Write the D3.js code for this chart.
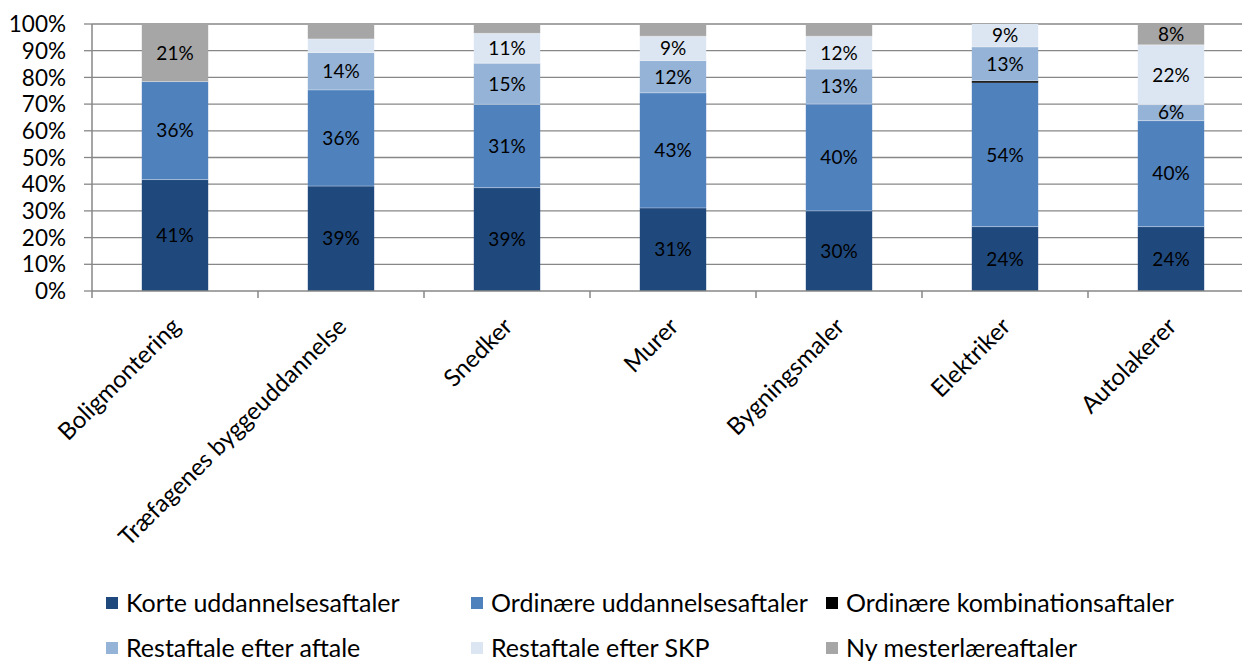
<!DOCTYPE html>
<html>
<head>
<meta charset="utf-8">
<script src="https://cdn.jsdelivr.net/npm/d3@7"></script>
<style>
  html, body { margin: 0; padding: 0; background: #fff; }
  svg { display: block; }
  text { font-family: Lato, "Open Sans", sans-serif; fill: #000; }
</style>
</head>
<body>
<svg id="chart" width="1242" height="661"></svg>
<script>
// ---- data ----
const categories = ["Boligmontering", "Træfagenes byggeuddannelse", "Snedker", "Murer", "Bygningsmaler", "Elektriker", "Autolakerer"];
const seriesNames = ["Korte uddannelsesaftaler", "Ordinære uddannelsesaftaler", "Ordinære kombinationsaftaler", "Restaftale efter aftale", "Restaftale efter SKP", "Ny mesterlæreaftaler"];
const korte      = [41.4, 39.3, 38.7, 31.1, 30.0, 24.1, 24.1];
const ordinaere  = [36.4, 36.0, 31.2, 43.1, 40.0, 53.9, 39.7];
const kombination= [0,    0,    0,    0,    0,    0.7,  0];
const restAftale = [0,    14.0, 15.4, 12.1, 13.1, 12.7, 6.0];
const restSKP    = [0,    5.1,  11.2, 9.1,  12.3, 8.6,  22.4];
const mester     = [21.4, 5.6,  3.5,  4.6,  4.6,  0,    7.8];
const yTicks = [0, 0.1, 0.2, 0.3, 0.4, 0.5, 0.6, 0.7, 0.8, 0.9, 1.0];
const colors = ["#1F497D", "#4F81BD", "#000000", "#95B3D7", "#DCE6F2", "#A6A6A6"];

const seriesValues = [korte, ordinaere, kombination, restAftale, restSKP, mester];
const rows = categories.map((c, i) => {
  const r = { cat: c };
  seriesNames.forEach((s, j) => r[s] = seriesValues[j][i]);
  return r;
});

const svg = d3.select("#chart");
const plot = { left: 92, right: 1254, top: 24, bottom: 291 };

const x = d3.scaleBand().domain(categories).range([plot.left, plot.right])
  .paddingInner(0.6).paddingOuter(0.3);
const y = d3.scaleLinear().domain([0, 1]).range([plot.bottom, plot.top]);

// gridlines
svg.append("g").selectAll("line").data(yTicks.filter(t => t > 0)).join("line")
  .attr("x1", plot.left).attr("x2", plot.right)
  .attr("y1", d => y(d)).attr("y2", d => y(d))
  .attr("stroke", "#878787").attr("stroke-width", 1.3);

// stacked bars
const stack = d3.stack().keys(seriesNames).offset(d3.stackOffsetExpand);
const stacked = stack(rows);

const layers = svg.append("g").selectAll("g").data(stacked).join("g")
  .attr("fill", (d, i) => colors[i]);
layers.selectAll("rect").data(d => d).join("rect")
  .attr("x", d => x(d.data.cat))
  .attr("width", x.bandwidth())
  .attr("y", d => y(d[1]))
  .attr("height", d => Math.max(0, y(d[0]) - y(d[1])));

// thin light separators between segments (excel-like)
layers.each(function(layer, li) {
  if (li === 2) return;
  d3.select(this).selectAll("line.sep").data(layer.filter(d => d[1] - d[0] > 0.001 && d[0] > 0)).join("line")
    .attr("class", "sep")
    .attr("x1", d => x(d.data.cat)).attr("x2", d => x(d.data.cat) + x.bandwidth())
    .attr("y1", d => y(d[0])).attr("y2", d => y(d[0]))
    .attr("stroke", "#ffffff").attr("stroke-opacity", 0.35).attr("stroke-width", 1);
});

// data labels
svg.append("g").selectAll("g").data(stacked).join("g")
  .each(function(layer, li) {
    d3.select(this).selectAll("text").data(layer.filter(d => d.data[layer.key] >= 5.8)).join("text")
      .attr("x", d => x(d.data.cat) + x.bandwidth() / 2)
      .attr("y", d => (y(d[0]) + y(d[1])) / 2)
      .attr("dy", "0.36em")
      .attr("text-anchor", "middle")
      .style("font-size", "19px")
      .text(d => Math.round(d.data[layer.key]) + "%");
  });

// x axis line + ticks
svg.append("line").attr("x1", plot.left).attr("x2", plot.right)
  .attr("y1", plot.bottom).attr("y2", plot.bottom)
  .attr("stroke", "#878787").attr("stroke-width", 1.5);
const bounds = categories.map(c => x(c) - x.step() * x.paddingInner() / 2);
bounds.push(plot.right);
svg.append("g").selectAll("line").data(bounds).join("line")
  .attr("x1", d => d).attr("x2", d => d)
  .attr("y1", plot.bottom).attr("y2", plot.bottom + 7)
  .attr("stroke", "#878787").attr("stroke-width", 1.5);
// y axis line
svg.append("line").attr("x1", plot.left).attr("x2", plot.left)
  .attr("y1", plot.top).attr("y2", plot.bottom)
  .attr("stroke", "#878787").attr("stroke-width", 1.5);
svg.append("g").selectAll("line").data(yTicks).join("line")
  .attr("x1", plot.left - 8).attr("x2", plot.left)
  .attr("y1", d => y(d)).attr("y2", d => y(d))
  .attr("stroke", "#878787").attr("stroke-width", 1.3);

// y labels
svg.append("g").selectAll("text").data(yTicks).join("text")
  .attr("x", 66).attr("y", d => y(d)).attr("dy", "0.36em")
  .attr("text-anchor", "end").style("font-size", "22.5px")
  .text(d => d3.format(".0%")(d));

// x labels (rotated)
svg.append("g").selectAll("text").data(categories).join("text")
  .attr("transform", d => `translate(${x(d) + x.bandwidth() / 2 + 1},322) rotate(-45)`)
  .attr("text-anchor", "end").attr("dy", "0.35em")
  .style("font-size", "24px")
  .text(d => d);

// legend
const legendCols = [106, 471, 826];
const legendRows = [603, 648];
const lg = svg.append("g").selectAll("g").data(seriesNames).join("g")
  .attr("transform", (d, i) => `translate(${legendCols[i % 3]},${legendRows[Math.floor(i / 3)]})`);
lg.append("rect").attr("x", 0).attr("y", -6).attr("width", 12).attr("height", 12)
  .attr("fill", (d, i) => colors[i]);
lg.append("text").attr("x", 20).attr("dy", "0.36em").style("font-size", "25px").text(d => d);
</script>
</body>
</html>
